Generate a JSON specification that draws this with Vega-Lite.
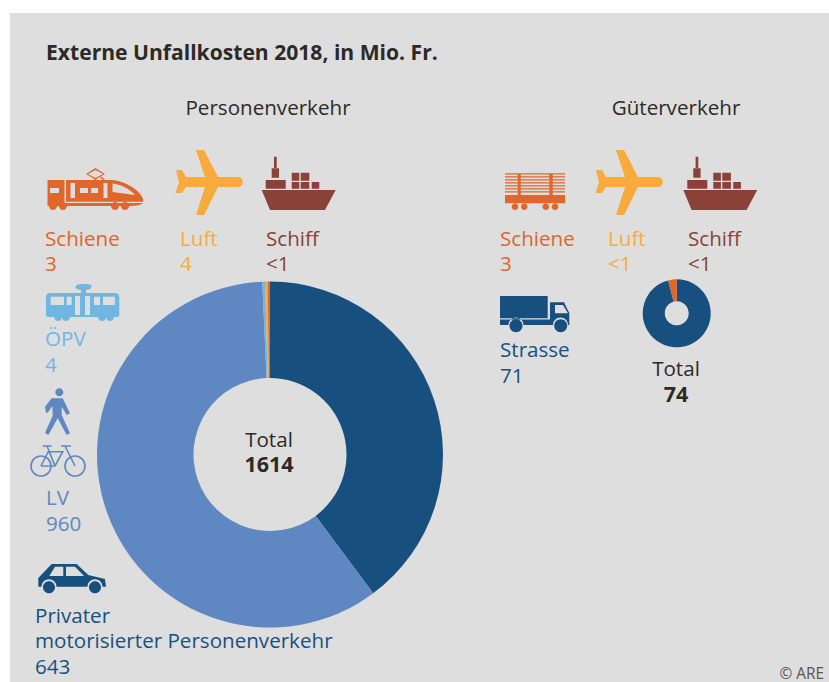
{
"$schema":"https://vega.github.io/schema/vega-lite/v6.json",
"width":829,"height":682,"padding":0,"autosize":"none","background":"#ffffff",
"view":{"stroke":null},
"config":{"font":"Open Sans"},
"datasets":{
"slices":[
{"chart":"personen","cat":"Privater motorisierter Personenverkehr","value":643,"order":1},
{"chart":"personen","cat":"LV","value":960,"order":2},
{"chart":"personen","cat":"ÖPV","value":4,"order":3},
{"chart":"personen","cat":"Luft","value":4,"order":4},
{"chart":"personen","cat":"Schiene","value":3,"order":5},
{"chart":"personen","cat":"Schiff","value":0.5,"order":6},
{"chart":"gueter","cat":"Privater motorisierter Personenverkehr","value":71,"order":1},
{"chart":"gueter","cat":"Schiene","value":3,"order":2}
],
"labels":[
{"x":45,"y":246,"text":"Schiene","cat":"Schiene"},
{"x":45,"y":271,"text":"3","cat":"Schiene"},
{"x":180,"y":246,"text":"Luft","cat":"Luft"},
{"x":180,"y":271,"text":"4","cat":"Luft"},
{"x":266,"y":246,"text":"Schiff","cat":"Schiff"},
{"x":266,"y":271,"text":"<1","cat":"Schiff"},
{"x":45,"y":346,"text":"ÖPV","cat":"ÖPV"},
{"x":45,"y":372,"text":"4","cat":"ÖPV"},
{"x":46,"y":505,"text":"LV","cat":"LV"},
{"x":46,"y":531,"text":"960","cat":"LV"},
{"x":35,"y":623,"text":"Privater","cat":"Privater motorisierter Personenverkehr"},
{"x":35,"y":648,"text":"motorisierter Personenverkehr","cat":"Privater motorisierter Personenverkehr"},
{"x":35,"y":674,"text":"643","cat":"Privater motorisierter Personenverkehr"},
{"x":500,"y":246,"text":"Schiene","cat":"Schiene"},
{"x":500,"y":271,"text":"3","cat":"Schiene"},
{"x":608,"y":246,"text":"Luft","cat":"Luft"},
{"x":608,"y":271,"text":"<1","cat":"Luft"},
{"x":688,"y":246,"text":"Schiff","cat":"Schiff"},
{"x":688,"y":271,"text":"<1","cat":"Schiff"},
{"x":500,"y":357,"text":"Strasse","cat":"Privater motorisierter Personenverkehr"},
{"x":500,"y":383,"text":"71","cat":"Privater motorisierter Personenverkehr"}
]
},
"encoding":{
"x":{"field":"x","type":"quantitative","scale":{"domain":[0,829],"nice":false,"zero":false},"axis":null,"stack":null},
"y":{"field":"y","type":"quantitative","scale":{"domain":[0,682],"nice":false,"zero":false,"reverse":true},"axis":null,"stack":null}
},
"layer":[
{"data":{"values":[{"x":10,"x2":829,"y":13,"y2":682}]},"mark":{"type":"rect","color":"#dedede"},"encoding":{"x2":{"field":"x2"},"y2":{"field":"y2"}}},
{"data":{"name":"slices"},
 "transform":[{"filter":"datum.chart=='personen'"},{"stack":"value","sort":[{"field":"order","order":"ascending"}],"offset":"normalize","as":["v0","v1"]},{"calculate":"270","as":"x"},{"calculate":"454.5","as":"y"}],
 "mark":{"type":"arc","radius":173,"radius2":76.5},
 "encoding":{"theta":{"field":"v0","type":"quantitative","stack":null,"scale":{"domain":[0,1],"range":[0,6.28318]}},"theta2":{"field":"v1"},
 "color":{"field":"cat","type":"nominal","legend":null,"scale":{"domain":["Schiene","Luft","Schiff","ÖPV","LV","Privater motorisierter Personenverkehr"],"range":["#e0662a","#f8ab3c","#8a4238","#6fb7e3","#5f88c3","#17507f"]}}}},
{"data":{"name":"slices"},
 "transform":[{"filter":"datum.chart=='gueter'"},{"stack":"value","sort":[{"field":"order","order":"ascending"}],"offset":"normalize","as":["v0","v1"]},{"calculate":"676.7","as":"x"},{"calculate":"313.3","as":"y"}],
 "mark":{"type":"arc","radius":34,"radius2":12},
 "encoding":{"theta":{"field":"v0","type":"quantitative","stack":null,"scale":{"domain":[0,1],"range":[0,6.28318]}},"theta2":{"field":"v1"},
 "color":{"field":"cat","type":"nominal","legend":null}}},
{"data":{"values":[{"x":100,"y":190}]},"mark":{"type":"point","filled":true,"opacity":1,"size":40000,"color":"#e0662a","strokeWidth":0,"shape":"M-.525 -.10 H.12 C.25 -.09 .40 0 .43 .09 V.13 Q.40 .16 .30 .16 H-.525 Z M-.355 -.10 V.13 H.43 V.118 H-.34 V-.10 Z M-.50 -.02 V.03 H-.41 V-.02 Z M-.295 -.07 V.08 H-.25 V-.07 Z M-.20 -.02 V.03 H-.12 V-.02 Z M-.09 -.02 V.03 H-.02 V-.02 Z M.035 -.07 V.08 H.075 V-.07 Z M.125 -.065 V.02 L.35 .05 C.30 -.01 .20 -.06 .125 -.065 Z M-.51 .16 A.04 .04 0 1 1 -.43 .16 A.04 .04 0 1 1 -.51 .16 Z M-.41 .16 A.04 .04 0 1 1 -.33 .16 A.04 .04 0 1 1 -.41 .16 Z M.11 .16 A.04 .04 0 1 1 .19 .16 A.04 .04 0 1 1 .11 .16 Z M.21 .16 A.04 .04 0 1 1 .29 .16 A.04 .04 0 1 1 .21 .16 Z M-.045 -.22 L.05 -.16 L-.045 -.105 L-.14 -.16 Z M-.045 -.20 L-.12 -.16 L-.045 -.12 L.03 -.16 Z M-.07 -.12 L-.06 -.13 L-.03 -.10 L-.05 -.10 Z M0 -.125 L.015 -.135 L.05 -.10 L.03 -.10 Z"}},
{"data":{"values":[{"x":210,"y":182},{"x":630,"y":182}]},"mark":{"type":"point","filled":true,"opacity":1,"size":40000,"color":"#f8ab3c","strokeWidth":0,"shape":"M.28 -.05 L.08 -.05 L-.06 -.32 L-.14 -.32 L-.05 -.05 L-.24 -.05 L-.28 -.12 L-.34 -.12 L-.31 0 L-.345 .11 L-.28 .11 L-.24 .05 L-.05 .05 L-.14 .33 L-.06 .33 L.08 .05 L.28 .05 C.345 .05 .345 -.05 .28 -.05 Z"}},
{"data":{"values":[{"x":300,"y":190},{"x":721.6,"y":190}]},"mark":{"type":"point","filled":true,"opacity":1,"size":40000,"color":"#8a4238","strokeWidth":0,"shape":"M-.383 0 H.357 L.25 .20 H-.30 Z M-.26 -.333 H-.233 V-.22 H-.26 Z M-.283 -.217 H-.21 V-.123 H-.283 Z M-.343 -.10 H-.143 V-.012 H-.343 Z M-.083 -.173 H-.007 V-.093 H-.083 Z M.007 -.173 H.093 V-.093 H.007 Z M-.083 -.08 H-.007 V-.012 H-.083 Z M.007 -.08 H.093 V-.012 H.007 Z M.117 -.08 H.193 V-.012 H.117 Z"}},
{"data":{"values":[{"x":80,"y":300}]},"mark":{"type":"point","filled":true,"opacity":1,"size":40000,"color":"#6fb7e3","strokeWidth":0,"shape":"M-.30 -.07 H.35 Q.393 -.07 .393 -.02 V.15 Q.393 .17 .37 .17 H-.32 Q-.34 .17 -.34 .15 V-.02 Q-.34 -.07 -.30 -.07 Z M-.293 -.033 V.05 H-.16 V-.033 Z M-.133 -.033 V.05 H-.083 V-.033 Z M-.05 -.04 V.15 H0 V-.04 Z M.05 -.04 V.15 H.10 V-.04 Z M.14 -.033 V.05 H.20 V-.033 Z M.23 -.033 V.05 H.35 V-.033 Z M-.05 -.13 Q-.03 -.16 0 -.16 H.07 Q.115 -.16 .117 -.13 Q.10 -.10 .07 -.10 H0 Q-.03 -.10 -.05 -.13 Z M.01 -.10 H.06 V-.07 H.01 Z M-.26 .17 A.04 .04 0 1 1 -.18 .17 A.04 .04 0 1 1 -.26 .17 Z M-.18 .17 A.04 .04 0 1 1 -.10 .17 A.04 .04 0 1 1 -.18 .17 Z M.18 .17 A.04 .04 0 1 1 .26 .17 A.04 .04 0 1 1 .18 .17 Z M.26 .17 A.04 .04 0 1 1 .34 .17 A.04 .04 0 1 1 .26 .17 Z"}},
{"data":{"values":[{"x":60,"y":410}]},"mark":{"type":"point","filled":true,"opacity":1,"size":40000,"color":"#5f88c3","strokeWidth":0,"shape":"M-.083 -.117 H.027 L.10 .033 L.067 .05 L.017 -.033 V.05 L.10 .233 L.067 .25 L-.023 .083 L-.117 .25 L-.15 .227 L-.073 .057 L-.077 -.04 L-.117 .02 L-.14 .033 L-.15 -.033 Z M-.047 -.177 A.04 .04 0 1 1 .033 -.177 A.04 .04 0 1 1 -.047 -.177 Z"}},
{"data":{"values":[{"x":58,"y":466}]},"mark":{"type":"point","filled":false,"fill":null,"opacity":1,"size":40000,"color":"#5f88c3","strokeWidth":1.6,"shape":"M-.27 0 A.10 .10 0 1 1 -.07 0 A.10 .10 0 1 1 -.27 0 Z M.07 0 A.10 .10 0 1 1 .27 0 A.10 .10 0 1 1 .07 0 Z M-.17 0 L-.097 -.143 H.047 L-.03 0 H-.17 M-.11 -.20 L-.03 0 M.17 0 L.07 -.20 M.03 -.20 H.13 M-.153 -.20 H-.063"}},
{"data":{"values":[{"x":70,"y":580}]},"mark":{"type":"point","filled":true,"opacity":1,"size":40000,"color":"#17507f","strokeWidth":0,"shape":"M-.317 .067 V-.02 L-.183 -.16 H.067 L.183 -.05 L.35 -.01 L.36 .067 H.325 A.075 .075 0 0 0 .175 .067 H-.135 A.075 .075 0 0 0 -.285 .067 Z M-.067 -.133 H-.15 L-.207 -.04 H-.067 Z M.05 -.133 H-.04 V-.04 H.14 Z M-.27 .073 A.06 .06 0 1 1 -.15 .073 A.06 .06 0 1 1 -.27 .073 Z M.19 .073 A.06 .06 0 1 1 .31 .073 A.06 .06 0 1 1 .19 .073 Z"}},
{"data":{"values":[{"x":535,"y":310}]},"mark":{"type":"point","filled":true,"opacity":1,"size":40000,"color":"#17507f","strokeWidth":0,"shape":"M-.35 -.14 H.127 V.083 H-.35 Z M.15 -.077 H.29 L.343 .03 V.15 H.33 A.075 .075 0 0 0 .18 .15 H-.115 A.075 .075 0 0 0 -.265 .15 H-.35 V.095 H.15 Z M.20 -.05 V.033 H.33 L.28 -.05 Z M-.255 .157 A.065 .065 0 1 1 -.125 .157 A.065 .065 0 1 1 -.255 .157 Z M.192 .157 A.065 .065 0 1 1 .322 .157 A.065 .065 0 1 1 .192 .157 Z"}},
{"data":{"values":[{"x":535,"y":190}]},"mark":{"type":"point","filled":true,"opacity":1,"size":40000,"color":"#e0662a","strokeWidth":0,"shape":"M-.30 .05 H.30 V.133 H-.30 Z M-.173 -.167 H-.143 V.05 H-.173 Z M.143 -.167 H.177 V.05 H.143 Z M-.30 -.167 H.30 V-.155 H-.30 Z M-.30 -.137 H.30 V-.125 H-.30 Z M-.30 -.107 H.30 V-.095 H-.30 Z M-.30 -.077 H.30 V-.065 H-.30 Z M-.30 -.047 H.30 V-.035 H-.30 Z M-.30 -.017 H.30 V-.005 H-.30 Z M-.30 .013 H.30 V.025 H-.30 Z M-.233 .167 A.033 .033 0 1 1 -.167 .167 A.033 .033 0 1 1 -.233 .167 Z M-.14 .167 A.033 .033 0 1 1 -.074 .167 A.033 .033 0 1 1 -.14 .167 Z M.074 .167 A.033 .033 0 1 1 .14 .167 A.033 .033 0 1 1 .074 .167 Z M.167 .167 A.033 .033 0 1 1 .233 .167 A.033 .033 0 1 1 .167 .167 Z"}},
{"data":{"values":[{"x":46,"y":60,"text":"Externe Unfallkosten 2018, in Mio. Fr."}]},"mark":{"type":"text","align":"left","baseline":"alphabetic","fontSize":21.1,"fontWeight":"bold","color":"#2d2a26"},"encoding":{"text":{"field":"text"}}},
{"data":{"values":[{"x":268,"y":115,"text":"Personenverkehr"},{"x":676,"y":115,"text":"Güterverkehr"},{"x":269,"y":447,"text":"Total"},{"x":676,"y":376,"text":"Total"}]},"mark":{"type":"text","align":"center","baseline":"alphabetic","fontSize":20.6,"color":"#2d2a26"},"encoding":{"text":{"field":"text"}}},
{"data":{"values":[{"x":269,"y":472,"text":"1614"},{"x":676,"y":402,"text":"74"}]},"mark":{"type":"text","align":"center","baseline":"alphabetic","fontSize":21.5,"fontWeight":"bold","color":"#2d2a26"},"encoding":{"text":{"field":"text"}}},
{"data":{"name":"labels"},"mark":{"type":"text","align":"left","baseline":"alphabetic","fontSize":20.6},"encoding":{"text":{"field":"text"},"color":{"field":"cat","type":"nominal","legend":null}}},
{"data":{"values":[{"x":824,"y":679,"text":"© ARE"}]},"mark":{"type":"text","align":"right","baseline":"alphabetic","fontSize":15.4,"color":"#555555"},"encoding":{"text":{"field":"text"}}}
]
}
